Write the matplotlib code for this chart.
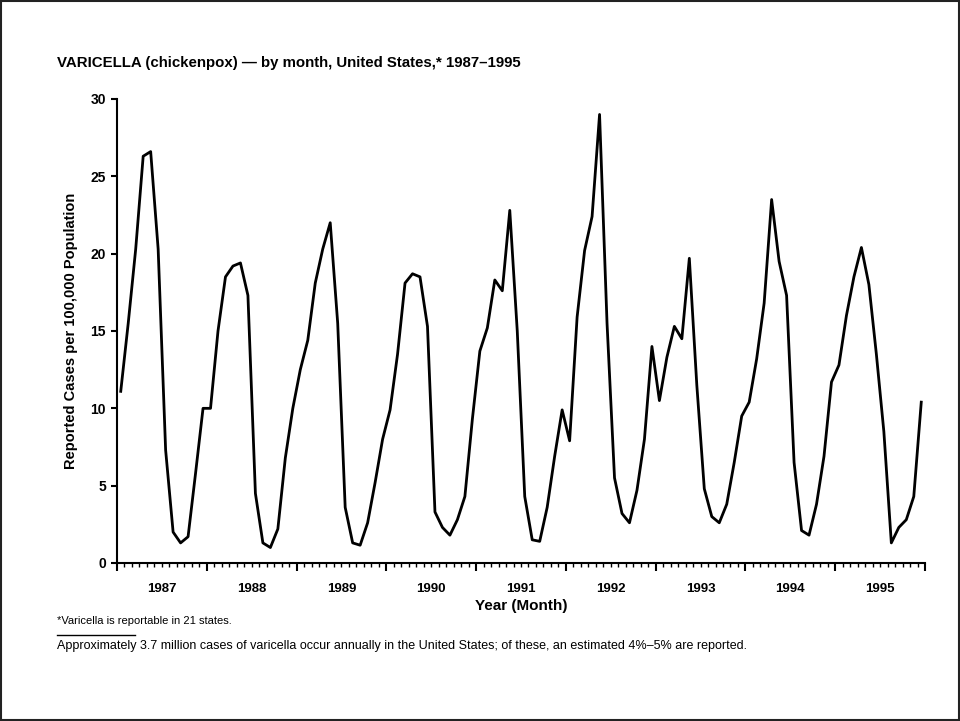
import numpy as np
import matplotlib
matplotlib.use('Agg')
import matplotlib.pyplot as plt
from matplotlib.ticker import MultipleLocator

# monthly reported cases per 100,000, Jan 1987 - Dec 1995
cases_1987 = [11.1, 15.5, 20.3, 26.3, 26.6, 20.3, 7.3, 2.0, 1.3, 1.7, 5.8, 10.0]
cases_1988 = [10.0, 15.0, 18.5, 19.2, 19.4, 17.3, 4.5, 1.3, 1.0, 2.2, 6.8, 10.0]
cases_1989 = [12.5, 14.4, 18.1, 20.3, 22.0, 15.5, 3.6, 1.3, 1.15, 2.6, 5.2, 8.0]
cases_1990 = [9.9, 13.5, 18.1, 18.7, 18.5, 15.3, 3.3, 2.3, 1.8, 2.8, 4.3, 9.3]
cases_1991 = [13.7, 15.2, 18.3, 17.6, 22.8, 15.0, 4.3, 1.5, 1.4, 3.6, 6.9, 9.9]
cases_1992 = [7.9, 15.9, 20.2, 22.4, 29.0, 15.5, 5.5, 3.2, 2.6, 4.7, 8.0, 14.0]
cases_1993 = [10.5, 13.3, 15.3, 14.5, 19.7, 11.5, 4.8, 3.0, 2.6, 3.8, 6.5, 9.5]
cases_1994 = [10.4, 13.2, 16.8, 23.5, 19.5, 17.3, 6.5, 2.1, 1.8, 3.8, 6.9, 11.7]
cases_1995 = [12.8, 16.0, 18.5, 20.4, 18.0, 13.5, 8.5, 1.3, 2.3, 2.8, 4.3, 10.4]
years = ['1987', '1988', '1989', '1990', '1991', '1992', '1993', '1994', '1995']

cases = np.array(cases_1987 + cases_1988 + cases_1989 + cases_1990 + cases_1991
                 + cases_1992 + cases_1993 + cases_1994 + cases_1995)
months = np.arange(len(cases)) + 0.5

plt.rcParams['font.family'] = ['Liberation Sans', 'DejaVu Sans']

fig = plt.figure(figsize=(9.6, 7.21), dpi=100)
fig.patches.append(plt.Rectangle((0.001, 0.001), 0.998, 0.997, transform=fig.transFigure,
                                 fill=False, edgecolor='#222222', linewidth=1.5))

ax = fig.add_axes([117 / 960, 158 / 721, 808 / 960, 464 / 721])
ax.plot(months, cases, color='black', lw=2.0, solid_joinstyle='round')

ax.set_xlim(0, len(cases))
ax.set_ylim(0, 30)
ax.spines['top'].set_visible(False)
ax.spines['right'].set_visible(False)
for s in ['left', 'bottom']:
    ax.spines[s].set_linewidth(1.5)

ax.yaxis.set_major_locator(MultipleLocator(5))
ax.tick_params(axis='y', direction='out', length=4, width=1.5, labelsize=10, pad=4)
for t in ax.get_yticklabels():
    t.set_fontweight('bold')

ax.xaxis.set_major_locator(MultipleLocator(12))
ax.xaxis.set_minor_locator(MultipleLocator(1))
ax.tick_params(axis='x', which='major', direction='out', length=6, width=1.5, labelbottom=False)
ax.tick_params(axis='x', which='minor', direction='out', length=3, width=1)

for i, y in enumerate(years):
    ax.text(12 * i + 6, -1.7, y, ha='center', va='center', fontsize=9.5, fontweight='bold')

ax.text(len(cases) / 2, -2.75, 'Year (Month)', ha='center', va='center', fontsize=11, fontweight='bold')
ax.set_ylabel('Reported Cases per 100,000 Population', fontsize=10.5, fontweight='bold', labelpad=9)

fig.text(57 / 960, 1 - 63 / 721, 'VARICELLA (chickenpox) \u2014 by month, United States,* 1987\u20131995',
         ha='left', va='center', fontsize=10.8, fontweight='bold')
fig.text(57 / 960, 1 - 621 / 721, '*Varicella is reportable in 21 states.',
         ha='left', va='center', fontsize=8)
fig.lines.append(plt.Line2D([57 / 960, 135 / 960], [1 - 635 / 721, 1 - 635 / 721],
                            transform=fig.transFigure, color='black', lw=1))
fig.text(57 / 960, 1 - 646 / 721,
         'Approximately 3.7 million cases of varicella occur annually in the United States; '
         'of these, an estimated 4%\u20135% are reported.',
         ha='left', va='center', fontsize=9)

fig.savefig('out.png', dpi=100)
